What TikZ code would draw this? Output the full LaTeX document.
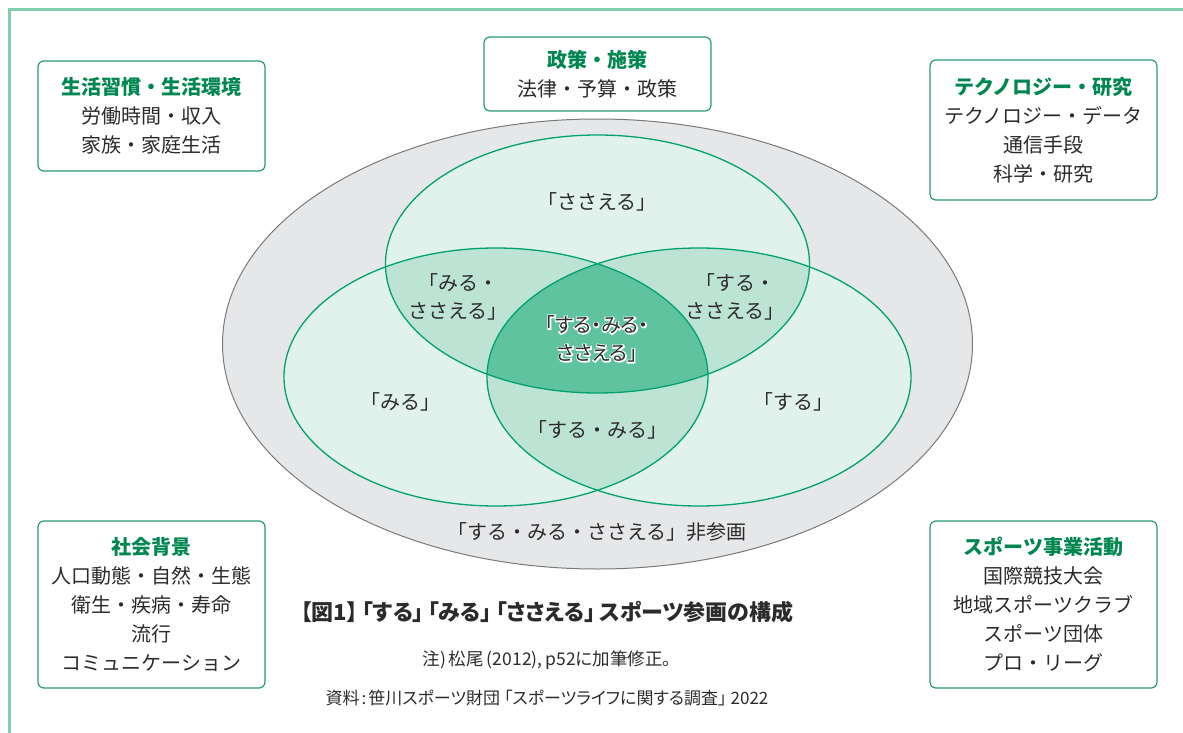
\documentclass[tikz,border=0pt]{standalone}
\usepackage{fontspec}
\setmainfont{Noto Sans CJK JP}
\newfontfamily\jpp[RawFeature=+palt]{Noto Sans CJK JP}
\newfontfamily\jphalo[RawFeature=+palt, FakeBold=12]{Noto Sans CJK JP}
\definecolor{framegreen}{HTML}{7FCFAE}
\definecolor{outergray}{HTML}{E6E7E9}
\definecolor{outerline}{HTML}{7A7A7A}
\definecolor{lightg}{HTML}{E1F1EB}
\definecolor{midg}{HTML}{BDE3D4}
\definecolor{darkg}{HTML}{5FC3A0}
\definecolor{circline}{HTML}{00A26E}
\definecolor{boxline}{HTML}{2A9A70}
\definecolor{titleg}{HTML}{00874F}
\definecolor{txt}{HTML}{2B2B2B}
\tikzset{
  infobox/.style={draw=boxline, line width=1.2pt, rounded corners=6pt, fill=white,
    minimum width=227pt, align=center, text=txt, inner sep=0pt,
    font=\fontsize{20}{29}\selectfont},
  lbl/.style={text=txt, align=center, inner sep=0pt, font=\fontsize{20}{28}\selectfont},
  venn/.style={x radius=212pt, y radius=129pt}
}
\newcommand{\ttlx}[1]{{\color{titleg}\bfseries #1}}
\begin{document}
\begin{tikzpicture}[x=1pt,y=-1pt]
\useasboundingbox (0,0) rectangle (1183,733);
% frame
\draw[framegreen, line width=2.8pt] (9.7,740) -- (9.7,9.7) -- (1190,9.7);
% outer ellipse
\filldraw[fill=outergray, draw=outerline, line width=1pt] (597.5,344) ellipse [x radius=375pt, y radius=225pt];
% circles fill
\fill[lightg] (597.5,264) ellipse [venn];
\fill[lightg] (496,377) ellipse [venn];
\fill[lightg] (699,377) ellipse [venn];
% pairwise
\begin{scope}
  \clip (597.5,264) ellipse [venn];
  \fill[midg] (496,377) ellipse [venn];
  \fill[midg] (699,377) ellipse [venn];
\end{scope}
\begin{scope}
  \clip (496,377) ellipse [venn];
  \fill[midg] (699,377) ellipse [venn];
\end{scope}
\begin{scope}
  \clip (597.5,264) ellipse [venn];
  \clip (496,377) ellipse [venn];
  \fill[darkg] (699,377) ellipse [venn];
\end{scope}
% outlines
\draw[circline, line width=1.3pt] (597.5,264) ellipse [venn];
\draw[circline, line width=1.3pt] (496,377) ellipse [venn];
\draw[circline, line width=1.3pt] (699,377) ellipse [venn];
% labels
\node[lbl] (sasaeru) at (597,202) {「ささえる」};
\node[lbl] (mirusasaeru) at (458,297) {「みる・\\ささえる」};
\node[lbl] (surusasaeru) at (735,297) {「する・\\ささえる」};
\node[lbl] (miru) at (400,402) {「みる」};
\node[lbl] (suru) at (793,402) {「する」};
\node[lbl] (surumiru) at (597,430) {「する・みる」};
\node[lbl] (non) at (597,532) {「する・みる・ささえる」非参画};
\node[lbl, text=white] (allhalo) at (597,339) {\jphalo 「する・みる・\\\jphalo ささえる」};
\node[lbl] (all) at (597,339) {\jpp 「する・みる・\\\jpp ささえる」};
% boxes
\node[infobox, minimum height=110pt] (life) at (151.5,116) {\ttlx{生活習慣・生活環境}\\労働時間・収入\\家族・家庭生活};
\node[infobox, minimum height=74pt] (policy) at (597.5,74) {\ttlx{政策・施策}\\法律・予算・政策};
\node[infobox, minimum height=140pt] (tech) at (1043.5,130) {\ttlx{テクノロジー・研究}\\テクノロジー・データ\\通信手段\\科学・研究};
\node[infobox, minimum height=167pt] (social) at (151.5,604.5) {\ttlx{社会背景}\\人口動態・自然・生態\\衛生・疾病・寿命\\流行\\コミュニケーション};
\node[infobox, minimum height=167pt] (business) at (1043.5,604.5) {\ttlx{スポーツ事業活動}\\国際競技大会\\地域スポーツクラブ\\スポーツ団体\\プロ・リーグ};
% captions
\node[text=txt, inner sep=0pt, font=\jpp\fontsize{22}{26}\selectfont\bfseries] (caption) at (547,612) {【図1】\hspace{4pt}「する」\hspace{4pt}「みる」\hspace{4pt}「ささえる」\hspace{4pt}スポーツ参画の構成};
\node[text=txt, inner sep=0pt, font=\jpp\fontsize{17.5}{20}\selectfont] (note) at (547,660) {注)\hspace{3pt}松尾\hspace{3pt}(2012),\hspace{3pt}p52に加筆修正。};
\node[text=txt, inner sep=0pt, font=\jpp\fontsize{17}{20}\selectfont] (source) at (547,698) {資料\hspace{2pt}:\hspace{2pt}笹川スポーツ財団\hspace{4pt}「スポーツライフに関する調査」\hspace{4pt}2022};
\end{tikzpicture}
\end{document}
